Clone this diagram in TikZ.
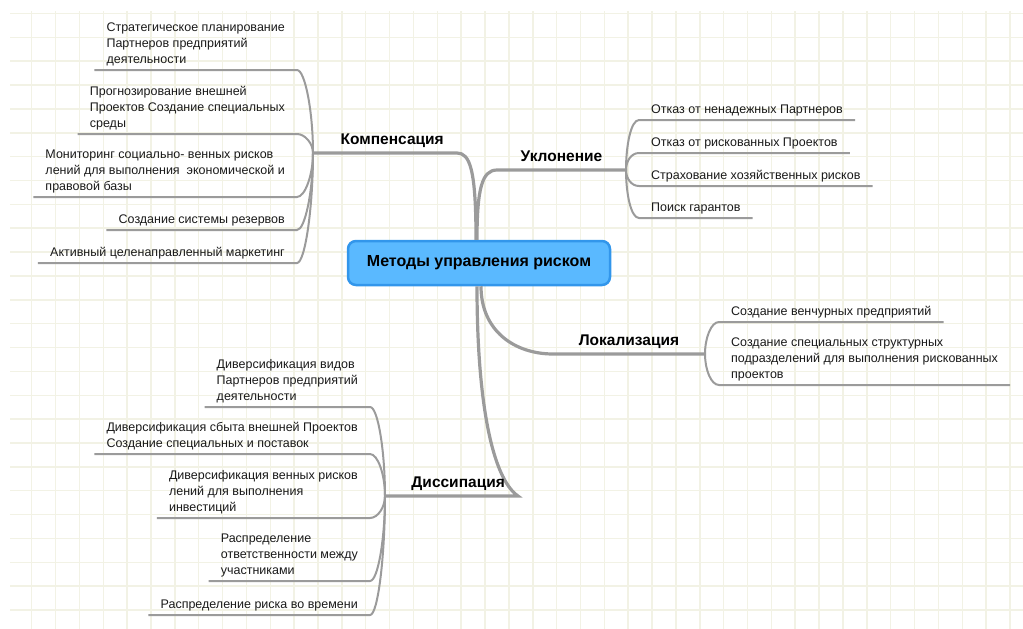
\documentclass[tikz,border=0pt]{standalone}
\usepackage{fontspec}
\setmainfont{Liberation Sans}
\usetikzlibrary{positioning, calc}

\definecolor{rootfill}{RGB}{90,185,255}
\definecolor{rootedge}{RGB}{50,150,235}
\definecolor{linegray}{RGB}{155,155,155}
\definecolor{gridcream}{RGB}{242,242,229}

\begin{document}
\begin{tikzpicture}[
  x=1pt, y=-1pt,
  root/.style={draw=rootedge, fill=rootfill, line width=2.5pt, rounded corners=8pt,
    minimum width=262pt, minimum height=44pt, font=\fontsize{16}{19}\selectfont\bfseries},
  branch/.style={font=\fontsize{15.5}{18}\selectfont\bfseries, inner xsep=2pt, inner ysep=7pt, text depth=0pt},
  leaf/.style={align=left, font=\fontsize{12.5}{16}\selectfont, text=black!90,
    inner xsep=12pt, inner ysep=4pt, text depth=2.5pt},
  stem/.style={draw=linegray, line width=3.2pt},
  twig/.style={draw=linegray, line width=2pt},
  grid line/.style={draw=gridcream, line width=1.5pt}
]
  \useasboundingbox (0,0) rectangle (1023,629);

  % squared paper
  \foreach \i in {0,...,41}
    \draw[grid line] ({31.7+23.86*\i},11) -- ({31.7+23.86*\i},629);
  \foreach \j in {0,...,25}
    \draw[grid line] (10,{13.5+23.86*\j}) -- (1023,{13.5+23.86*\j});

  \node[root] (root) at (479,263) {Методы управления риском};

  % branch junctions
  \coordinate (kJ) at (313,153); \coordinate (kE) at (457,153);
  \coordinate (uJ) at (626,170); \coordinate (uE) at (497,170);
  \coordinate (lJ) at (705,354); \coordinate (lE) at (553,354);
  \coordinate (dJ) at (385,496); \coordinate (dE) at (518,496);

  \draw[stem] ([xshift=-3pt]root.north) .. controls +(0,-70) and +(13,0) .. (kE) -- (kJ)
    node[branch, pos=0.45, above] {Компенсация};
  \draw[stem] ([xshift=-2pt]root.north) .. controls +(0,-51) and +(-15,0) .. (uE) -- (uJ)
    node[branch, midway, above] {Уклонение};
  \draw[stem] ([xshift=2pt]root.south) .. controls +(0,45) and +(-38,0) .. (lE) -- (lJ)
    node[branch, midway, above] {Локализация};
  \draw[stem] ([xshift=-2pt]root.south) .. controls +(0,115) and +(-26,-18) .. (dE) -- (dJ)
    node[branch, pos=0.45, above] {Диссипация};

  % Компенсация
  \node[leaf, anchor=south east] (k1) at (297,70) {Стратегическое планирование\\Партнеров предприятий\\деятельности};
  \node[leaf, anchor=south east] (k2) at (297,134) {Прогнозирование внешней\\Проектов Создание специальных\\среды};
  \node[leaf, anchor=south east] (k3) at (297,197) {Мониторинг социально- венных рисков\\лений для выполнения~ экономической и\\правовой базы};
  \node[leaf, anchor=south east] (k4) at (297,230) {Создание системы резервов};
  \node[leaf, anchor=south east] (k5) at (297,263) {Активный целенаправленный маркетинг};
  \foreach \n in {k1,k2,k3,k4,k5}
    \draw[twig] (kJ) .. controls ($(kJ)!0.5!(kJ |- \n.south east)$) and ([xshift=8pt]\n.south east)
      .. (\n.south east) -- (\n.south west);

  % Уклонение
  \node[leaf, anchor=south west] (u1) at (639,120) {Отказ от ненадежных Партнеров};
  \node[leaf, anchor=south west] (u2) at (639,153) {Отказ от рискованных Проектов};
  \node[leaf, anchor=south west] (u3) at (639,186) {Страхование хозяйственных рисков};
  \node[leaf, anchor=south west] (u4) at (639,218) {Поиск гарантов};
  \foreach \n in {u1,u2,u3,u4}
    \draw[twig] (uJ) .. controls ($(uJ)!0.5!(uJ |- \n.south west)$) and ([xshift=-8pt]\n.south west)
      .. (\n.south west) -- (\n.south east);

  % Локализация
  \node[leaf, anchor=south west] (l1) at (719,322) {Создание венчурных предприятий};
  \node[leaf, anchor=south west] (l2) at (719,385) {Создание специальных структурных\\подразделений для выполнения рискованных\\проектов};
  \foreach \n in {l1,l2}
    \draw[twig] (lJ) .. controls ($(lJ)!0.5!(lJ |- \n.south west)$) and ([xshift=-8pt]\n.south west)
      .. (\n.south west) -- (\n.south east);

  % Диссипация
  \node[leaf, anchor=south east] (d1) at (370,407) {Диверсификация видов\\Партнеров предприятий\\деятельности};
  \node[leaf, anchor=south east] (d2) at (370,454) {Диверсификация сбыта внешней Проектов\\Создание специальных и поставок};
  \node[leaf, anchor=south east] (d3) at (370,518) {Диверсификация венных рисков\\лений для выполнения\\инвестиций};
  \node[leaf, anchor=south east] (d4) at (370,581) {Распределение\\ответственности между\\участниками};
  \node[leaf, anchor=south east] (d5) at (370,615) {Распределение риска во времени};
  \foreach \n in {d1,d2,d3,d4,d5}
    \draw[twig] (dJ) .. controls ($(dJ)!0.5!(dJ |- \n.south east)$) and ([xshift=8pt]\n.south east)
      .. (\n.south east) -- (\n.south west);
\end{tikzpicture}
\end{document}
